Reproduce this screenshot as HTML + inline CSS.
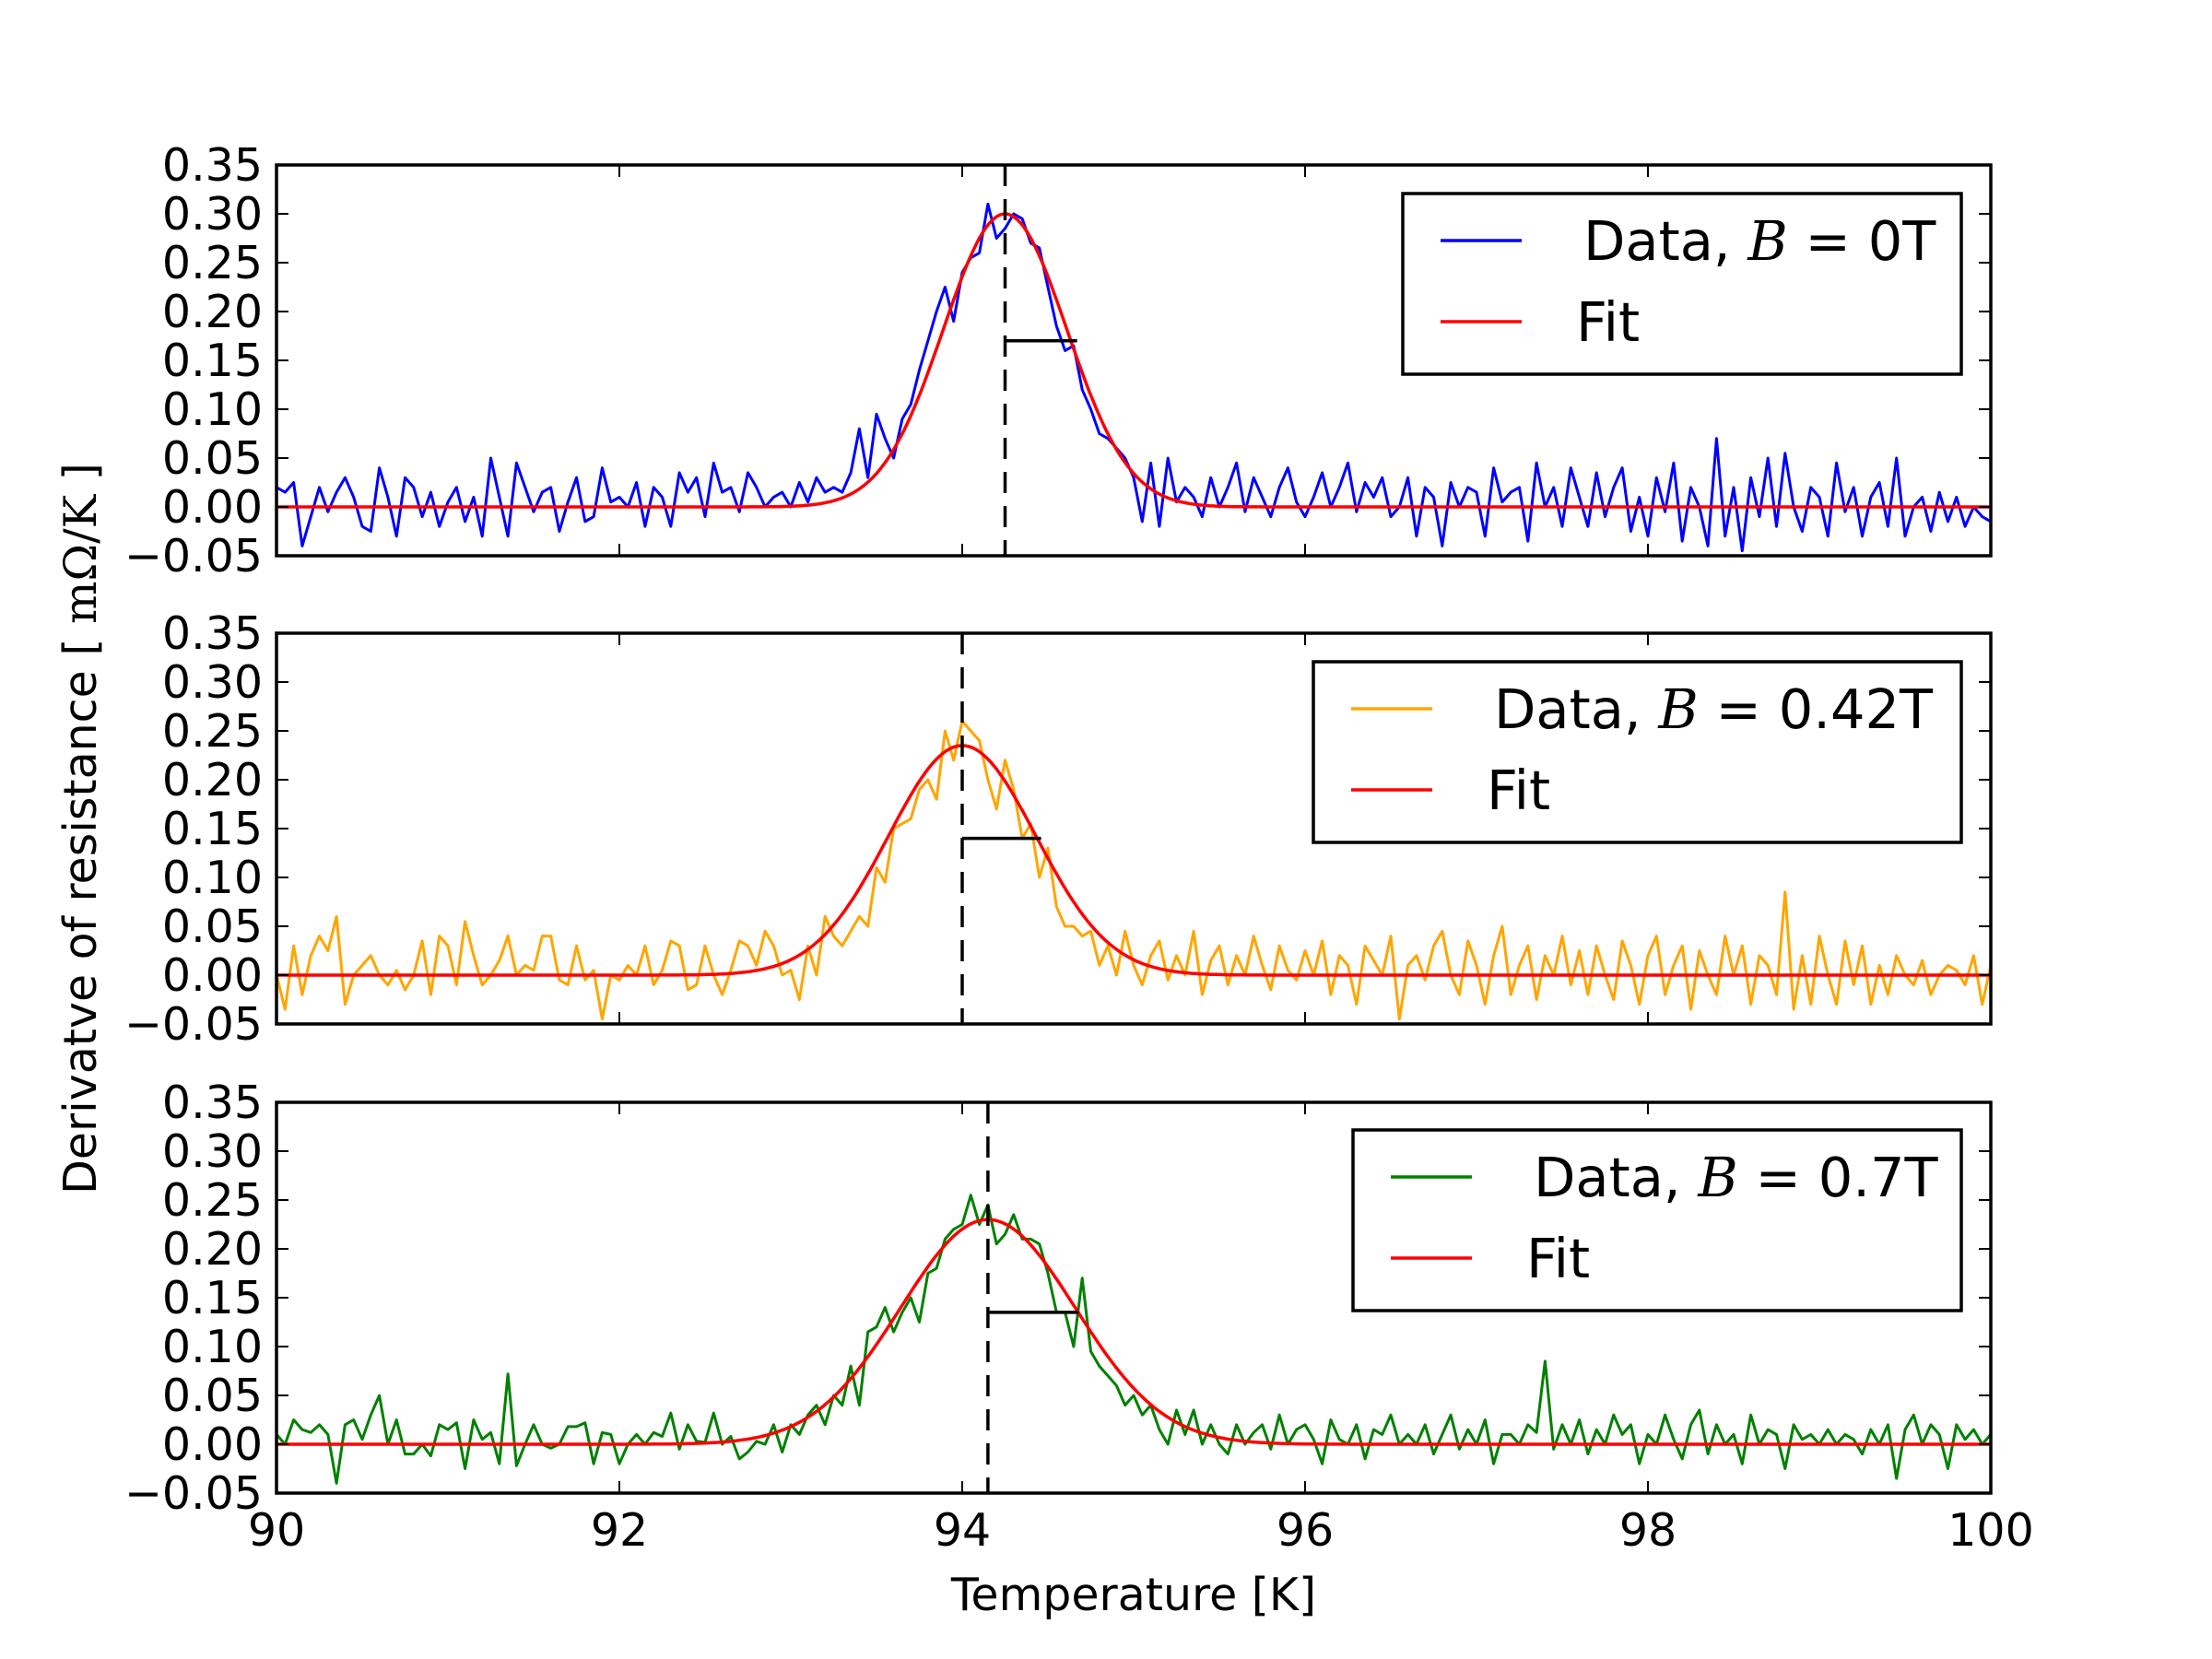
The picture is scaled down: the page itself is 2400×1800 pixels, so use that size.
<!DOCTYPE html>
<html><head><meta charset="utf-8">
<style>
html,body{margin:0;padding:0;background:#fff;}
svg{display:block;}
text{font-family:"DejaVu Sans","Liberation Sans",sans-serif;}
</style></head>
<body>
<svg id="chart" width="2400" height="1800" viewBox="0 0 2400 1800" xmlns="http://www.w3.org/2000/svg">
<rect width="2400" height="1800" fill="#fff"/>
<text transform="translate(104,899) rotate(-90)" text-anchor="middle" font-size="49">Derivatve of resistance [ <tspan font-family="'DejaVu Serif','Liberation Serif',serif">mΩ/K</tspan> ]</text>
<text x="1230" y="1747" text-anchor="middle" font-size="49">Temperature [K]</text>
</svg>
<script>
const xTicks = [90, 92, 94, 96, 98, 100];
const yTicks = [-0.05, 0, 0.05, 0.10, 0.15, 0.20, 0.25, 0.30, 0.35];
const yTickLabels = ["\u22120.05","0.00","0.05","0.10","0.15","0.20","0.25","0.30","0.35"];
const fieldLabels = ["0T", "0.42T", "0.7T"];
const seriesColors = ["#0000ff", "#ffa500", "#008000"];
const fitAmp = [0.30, 0.235, 0.23];
const fitCenter = [94.25, 94.0, 94.15];
const fitSigma = [0.36, 0.43, 0.51];
const barY = [0.17, 0.14, 0.135];
const barEnd = [94.67, 94.46, 94.68];
const xStart = 90;
const xStep = 0.05;

const data0 = [0.02,0.015,0.025,-0.04,-0.01,0.02,-0.005,0.015,0.03,0.01,-0.02,-0.025,0.04,0.01,-0.03,0.03,0.02,-0.01,0.015,-0.02,0.005,0.02,-0.015,0.01,-0.03,0.05,0.01,-0.03,0.045,0.02,-0.005,0.015,0.02,-0.025,0.005,0.03,-0.015,-0.01,0.04,0.005,0.01,0.0,0.025,-0.02,0.02,0.01,-0.02,0.035,0.015,0.03,-0.01,0.045,0.015,0.02,-0.005,0.035,0.02,0.0,0.01,0.015,
0.0,0.025,0.005,0.03,0.015,0.02,0.015,0.035,0.08,0.03,0.095,0.07,0.05,0.09,0.105,0.14,0.17,0.2,0.225,0.19,0.24,0.255,0.26,0.31,0.275,0.285,0.3,0.295,0.27,0.265,0.225,0.185,0.16,0.165,0.12,0.1,0.075,0.07,0.06,0.05,0.03,-0.015,0.045,-0.02,0.05,
0.005,0.02,0.01,-0.01,0.03,0.0,0.02,0.045,-0.005,0.03,0.01,-0.01,0.02,0.04,0.005,-0.01,0.01,0.035,0.0,0.02,0.045,-0.005,0.025,0.01,0.03,-0.01,0.0,0.03,-0.03,0.02,0.01,-0.04,0.025,0.0,0.02,0.015,-0.03,0.04,0.005,0.015,0.02,-0.035,0.045,0.0,0.02,-0.02,0.04,0.01,-0.02,0.035,-0.01,0.02,0.04,-0.025,0.01,-0.03,0.03,-0.005,0.045,-0.035,0.02,0.0,-0.04,0.07,-0.03,0.02,-0.045,0.03,-0.01,0.05,-0.02,0.055,0.0,-0.025,0.02,0.01,-0.03,0.045,-0.005,0.02,-0.03,0.01,0.025,-0.02,0.05,-0.03,0.0,0.01,-0.025,0.015,-0.015,0.01,-0.02,0.0,-0.01,-0.015,0.01,-0.02,0.0,-0.01];

const data1 = [0.0,-0.035,0.03,-0.02,0.02,0.04,0.025,0.06,-0.03,0.0,0.01,0.02,0.0,-0.01,0.005,-0.015,0.0,0.035,-0.02,0.04,0.03,-0.01,0.055,0.02,-0.01,0.0,0.015,0.04,0.0,0.01,0.005,0.04,0.04,-0.005,-0.01,0.03,-0.005,0.005,-0.045,0.0,-0.005,0.01,0.0,0.03,-0.01,0.005,0.035,0.03,-0.015,-0.01,0.03,0.0,-0.02,0.005,0.035,0.03,0.01,0.045,0.03,0.0,
0.005,-0.025,0.03,0.0,0.06,0.04,0.03,0.045,0.06,0.05,
0.11,0.095,0.15,0.155,0.16,0.19,0.2,0.18,0.25,0.22,
0.26,0.25,0.24,0.2,0.17,0.22,0.19,0.14,0.155,0.10,
0.13,0.07,0.05,0.05,0.04,0.045,0.01,0.03,0.0,0.045,
0.01,-0.01,0.02,0.035,-0.005,0.02,0.0,0.045,-0.02,0.015,0.03,-0.01,0.02,0.0,0.04,0.01,-0.015,0.03,0.005,-0.005,0.025,0.0,0.035,-0.02,0.02,0.01,-0.03,0.03,0.015,0.0,0.04,-0.045,0.01,0.02,-0.005,0.03,0.045,0.0,-0.02,0.035,0.01,-0.03,0.02,0.05,-0.02,0.01,0.03,-0.025,0.02,0.0,0.04,-0.01,0.025,-0.02,0.03,0.0,-0.025,0.035,0.01,-0.03,0.02,0.04,-0.02,0.01,0.03,-0.035,0.025,0.0,-0.02,0.04,0.0,0.03,-0.03,0.02,0.01,-0.02,0.085,-0.035,0.02,-0.03,0.04,0.0,-0.03,0.035,-0.01,0.03,-0.03,0.01,-0.02,0.02,0.0,-0.01,0.015,-0.02,0.0,0.01,0.005,-0.01,0.02,-0.03,0.01,0.0,0.015];

const data2 = [0.01,0.0,0.025,0.015,0.012,0.02,0.01,-0.04,0.02,0.025,0.005,0.03,0.05,0.0,0.025,-0.01,-0.01,0.0,-0.012,0.02,0.015,0.022,-0.025,0.025,0.005,0.012,-0.02,0.072,-0.022,0.0,0.02,0.0,-0.004,0.0,0.018,0.018,0.022,-0.02,0.012,0.01,-0.02,0.0,0.01,0.0,0.012,0.008,0.032,-0.005,0.02,0.003,0.002,0.032,0.0,0.008,-0.015,-0.008,0.003,0.0,0.02,-0.008,
0.02,0.01,0.03,0.04,0.02,0.05,0.04,0.08,0.04,0.115,
0.12,0.14,0.115,0.135,0.15,0.125,0.175,0.18,0.21,0.22,
0.225,0.255,0.225,0.245,0.205,0.215,0.235,0.21,0.21,0.205,
0.175,0.135,0.135,0.1,0.17,0.095,0.08,0.07,0.06,0.04,
0.05,0.03,0.04,0.015,0.0,0.035,
0.01,0.035,0.0,0.02,0.0,-0.01,0.02,0.0,0.012,0.02,-0.005,0.03,0.0,0.015,0.02,0.005,-0.02,0.025,0.005,0.0,0.02,-0.015,0.015,0.01,0.03,0.0,0.01,0.0,0.02,-0.01,0.01,0.03,-0.005,0.015,0.0,0.025,-0.02,0.01,0.01,0.0,0.02,0.012,0.085,-0.005,0.02,0.0,0.025,-0.01,0.015,0.0,0.03,0.01,0.02,-0.02,0.01,0.0,0.03,0.005,-0.015,0.02,0.035,-0.01,0.02,0.0,0.01,-0.02,0.03,0.0,0.015,0.01,-0.025,0.02,0.005,0.01,0.0,0.015,0.0,0.01,0.005,-0.01,0.015,0.0,0.02,-0.035,0.015,0.03,0.0,0.02,0.01,-0.025,0.02,0.005,0.015,0.0,0.01,0.02,-0.01,0.015];

const allData = [data0, data1, data2];

const NS = "http://www.w3.org/2000/svg";
const svg = document.getElementById("chart");
const X0 = 300, X1 = 2160;
const panelTop = [179, 687, 1196];
const PH = 424;
const legendBoxes = [[1522,210,606,196],[1425,718,703,196],[1468,1226,660,196]];

function mk(tag, attrs, parent) {
  const e = document.createElementNS(NS, tag);
  for (const k in attrs) e.setAttribute(k, attrs[k]);
  (parent || svg).appendChild(e);
  return e;
}
function xScale(v) { return X0 + (v - 90) / 10 * (X1 - X0); }
function yScaleFor(p) { const t = panelTop[p]; return v => t + PH - (v + 0.05) / 0.4 * PH; }

for (let p = 0; p < 3; p++) {
  const y = yScaleFor(p);
  const top = panelTop[p], bot = top + PH;
  const g = mk("g", {});
  
  

  const cp = mk("clipPath", { id: "clip" + p }, g);
  mk("rect", { x: X0, y: top, width: X1 - X0, height: PH }, cp);

  const d = allData[p];
  const pts = d.map((v, i) => xScale(xStart + i * xStep).toFixed(1) + "," + y(v).toFixed(1)).join(" ");
  const dl = mk("polyline", { points: pts, fill: "none", stroke: seriesColors[p], "stroke-width": 3, "stroke-linejoin": "round", "clip-path": "url(#clip" + p + ")" }, g);
  
  

  const fp = [];
  for (let k = 0; k <= 500; k++) {
    const xv = 90 + k * 10 / 500;
    const yv = fitAmp[p] * Math.exp(-Math.pow(xv - fitCenter[p], 2) / (2 * fitSigma[p] * fitSigma[p]));
    fp.push(xScale(xv).toFixed(1) + "," + y(yv).toFixed(1));
  }
  const fl = mk("polyline", { points: fp.join(" "), fill: "none", stroke: "#ff0000", "stroke-width": 3.5, "clip-path": "url(#clip" + p + ")" }, g);
  
  

  const cx = xScale(fitCenter[p]);
  const dash = mk("line", { x1: cx, x2: cx, y1: top, y2: bot, stroke: "#000", "stroke-width": 3.5, "stroke-dasharray": "23,14" }, g);
  
  

  const wb = mk("line", { x1: cx, x2: xScale(barEnd[p]), y1: y(barY[p]), y2: y(barY[p]), stroke: "#000", "stroke-width": 3.5 }, g);
  
  

  xTicks.forEach(t => {
    const tx = xScale(t);
    mk("line", { x1: tx, x2: tx, y1: bot, y2: bot - 13, stroke: "#000", "stroke-width": 2 }, g);
    mk("line", { x1: tx, x2: tx, y1: top, y2: top + 13, stroke: "#000", "stroke-width": 2 }, g);
    if (p === 2) {
      const lb = mk("text", { x: tx, y: 1677, "text-anchor": "middle", "font-size": 49 }, g);
      lb.textContent = String(t);
      
      
    }
  });
  yTicks.forEach((t, i) => {
    const ty = y(t);
    mk("line", { x1: X0, x2: X0 + 13, y1: ty, y2: ty, stroke: "#000", "stroke-width": 2 }, g);
    mk("line", { x1: X1, x2: X1 - 13, y1: ty, y2: ty, stroke: "#000", "stroke-width": 2 }, g);
    const lb = mk("text", { x: 285, y: ty + 17, "text-anchor": "end", "font-size": 49 }, g);
    lb.textContent = yTickLabels[i];
    
    
  });

  const fr = mk("rect", { x: X0, y: top, width: X1 - X0, height: PH, fill: "none", stroke: "#000", "stroke-width": 3.5 }, g);
  
  

  const [lx, ly, lw, lh] = legendBoxes[p];
  const lg = mk("g", {}, g);
  
  
  mk("rect", { x: lx, y: ly, width: lw, height: lh, fill: "#fff", stroke: "#000", "stroke-width": 3.5 }, lg);
  mk("line", { x1: lx + 41, x2: lx + 129, y1: ly + 51, y2: ly + 51, stroke: seriesColors[p], "stroke-width": 3.5 }, lg);
  mk("line", { x1: lx + 41, x2: lx + 129, y1: ly + 139, y2: ly + 139, stroke: "#ff0000", "stroke-width": 3.5 }, lg);
  const t1 = mk("text", { x: lx + 196, y: ly + 72, "font-size": 59 }, lg);
  
  
  t1.appendChild(document.createTextNode("Data, "));
  const bs = mk("tspan", { "font-family": "'DejaVu Serif','Liberation Serif',serif", "font-style": "italic" }, t1);
  bs.textContent = "B";
  t1.appendChild(document.createTextNode(" = " + fieldLabels[p]));
  const t2 = mk("text", { x: lx + 188, y: ly + 160, "font-size": 59 }, lg);
  t2.textContent = "Fit";
  
  
}
</script>
</body></html>
